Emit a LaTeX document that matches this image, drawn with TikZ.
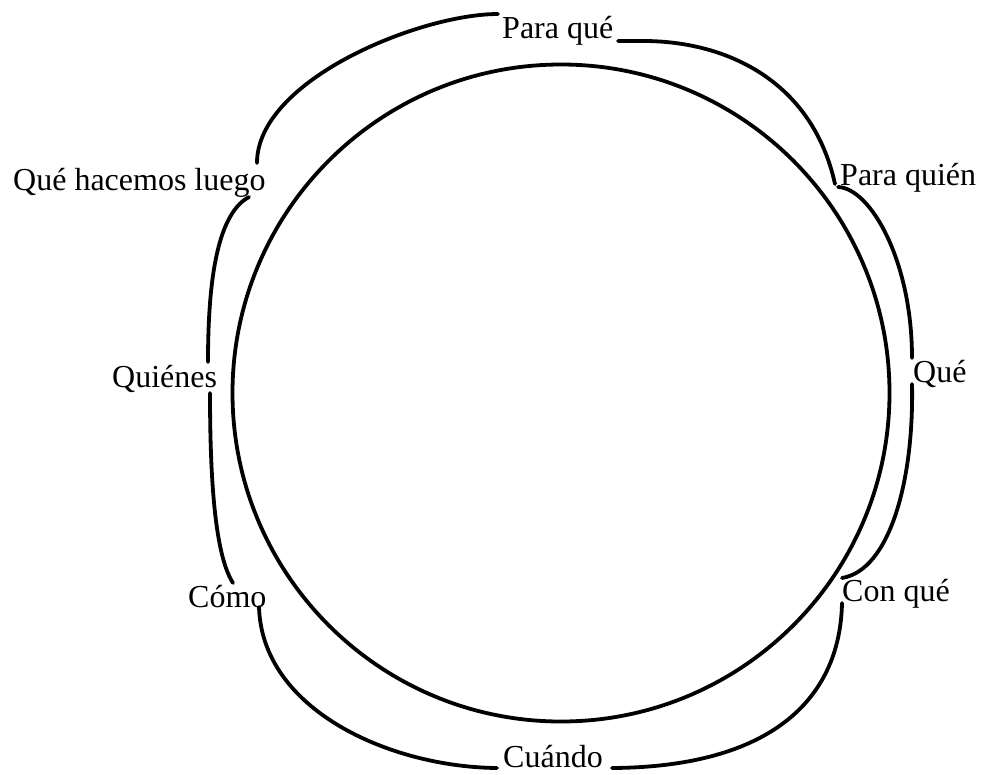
\documentclass[tikz,border=0pt]{standalone}
\usepackage{fontspec}
\setmainfont{Liberation Serif}
\begin{document}
\begin{tikzpicture}[x=1pt,y=-1pt,
  lbl/.style={anchor=base west,inner sep=0pt,font=\fontsize{32}{36}\selectfont},
  ln/.style={line width=3.8pt,line cap=round}]
\useasboundingbox (0,0) rectangle (981,774);
% central circle
\node[draw,circle,line width=3.8pt,minimum size=657pt,inner sep=0pt] (ring) at (561,393) {};
% labels
\node[lbl] (paraque) at (502,38) {Para qué};
\node[lbl] (paraquien) at (840,185) {Para quién};
\node[lbl] (que) at (913,382) {Qué};
\node[lbl] (conque) at (842,601) {Con qué};
\node[lbl] (cuando) at (503,767) {Cuándo};
\node[lbl] (como) at (188,607) {Cómo};
\node[lbl] (quienes) at (112,387) {Quiénes};
\node[lbl] (luego) at (13,190) {Qué hacemos luego};
% connector end points
\coordinate (a1) at (498,14);
\coordinate (b1) at (257,163);
\coordinate (a2) at (618,41);
\coordinate (b2) at (835,184);
\coordinate (a3) at (838,187);
\coordinate (b3) at (912,358);
\coordinate (a4) at (912,384);
\coordinate (b4) at (842,578);
\coordinate (a5) at (842,603);
\coordinate (b5) at (612,768);
\coordinate (a6) at (497,768);
\coordinate (b6) at (259,607);
\coordinate (a7) at (233,583);
\coordinate (b7) at (210,393);
\coordinate (a8) at (208,362);
\coordinate (b8) at (249,197);
% outer connectors
\draw[ln] (a1) .. controls (420,14) and (257,80) .. (b1);
\draw[ln] (a2) -- (640,41) .. controls (725,40) and (812,80) .. (b2);
\draw[ln] (a3) .. controls (870,188) and (912,260) .. (b3);
\draw[ln] (a4) .. controls (914,480) and (890,570) .. (b4);
\draw[ln] (a5) .. controls (840,700) and (770,767) .. (b5);
\draw[ln] (a6) .. controls (390,767) and (262,710) .. (b6);
\draw[ln] (a7) .. controls (215,555) and (210,480) .. (b7);
\draw[ln] (a8) .. controls (208,290) and (215,215) .. (b8);
\end{tikzpicture}
\end{document}
